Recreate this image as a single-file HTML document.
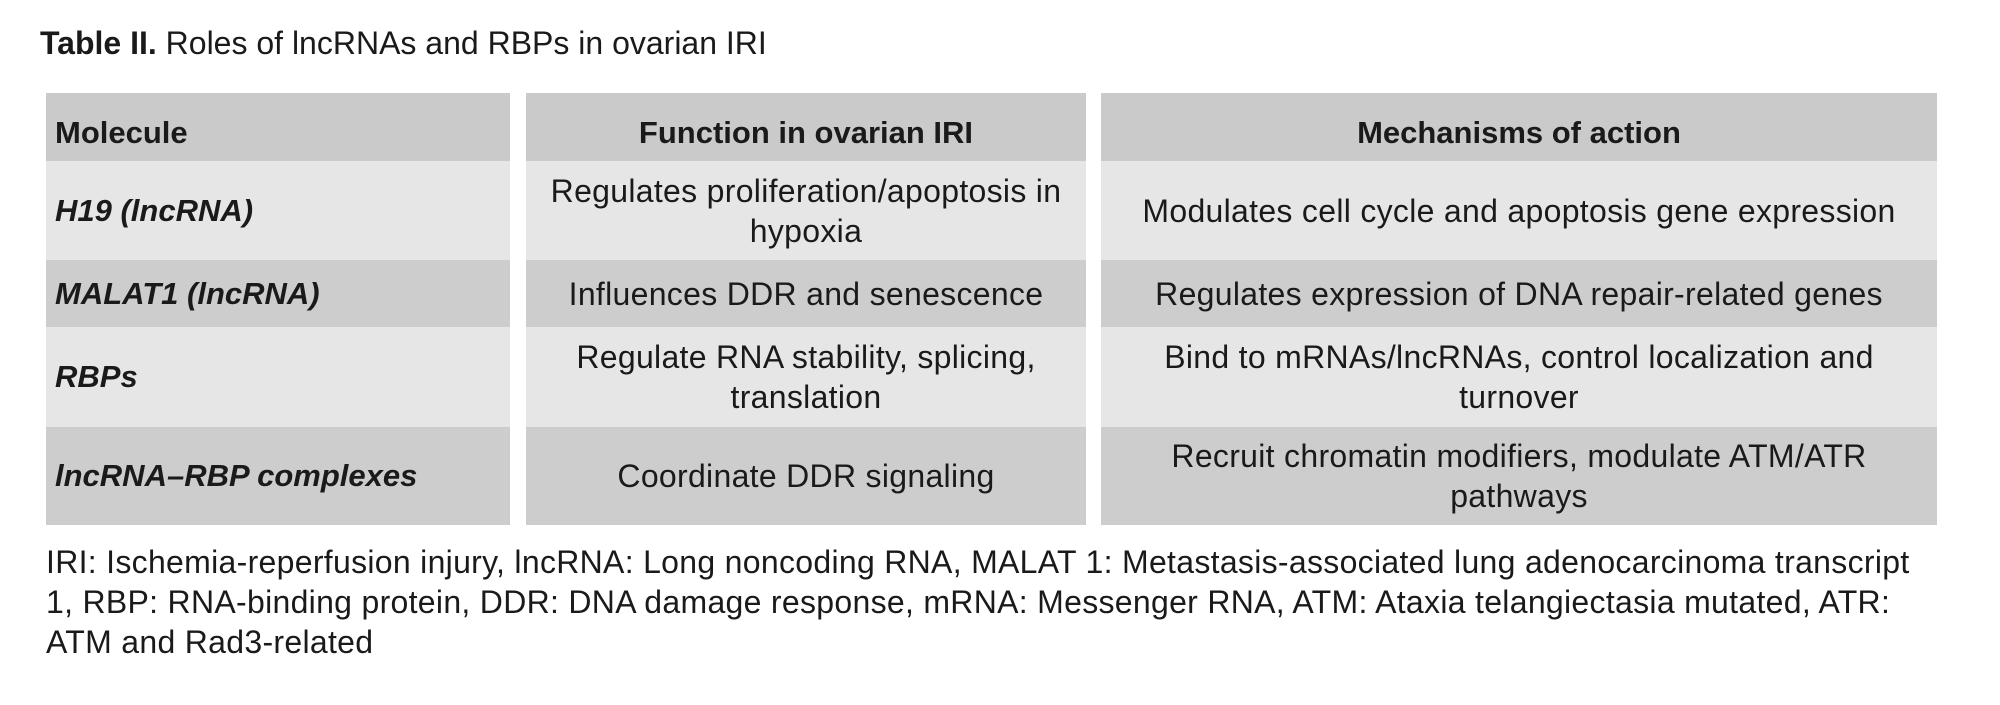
<!DOCTYPE html>
<html><head><meta charset="utf-8"><style>
body{margin:0;width:2000px;height:705px;background:#fff;font-family:"Liberation Sans",sans-serif;color:#1a1a1a;position:relative;overflow:hidden}
.t{position:absolute;left:40px;top:25px;font-size:32px;white-space:nowrap}
.c{position:absolute;display:flex;align-items:center;justify-content:center;text-align:center;font-size:32px;letter-spacing:0.3px;line-height:40px;box-sizing:border-box;white-space:nowrap}
.l{justify-content:flex-start;text-align:left;padding-left:9px;font-weight:bold;font-style:italic;font-size:31px;letter-spacing:0}
.h{background:#cacaca;font-weight:bold;align-items:flex-end;padding-bottom:8px;font-size:31px;letter-spacing:0}
.a{background:#e6e6e6}.b{background:#cdcdcd}
.f{position:absolute;left:46px;top:542px;font-size:32px;letter-spacing:0.3px;line-height:40px;white-space:nowrap}
</style></head><body>
<div class="t"><b>Table II.</b> Roles of lncRNAs and RBPs in ovarian IRI</div>

<div class="c h" style="left:46px;top:93px;width:464px;height:68px;justify-content:flex-start;padding-left:9px">Molecule</div>
<div class="c h" style="left:526px;top:93px;width:560px;height:68px">Function in ovarian IRI</div>
<div class="c h" style="left:1101px;top:93px;width:836px;height:68px">Mechanisms of action</div>

<div class="c a l" style="left:46px;top:161px;width:464px;height:99px">H19 (lncRNA)</div>
<div class="c a" style="left:526px;top:161px;width:560px;height:99px">Regulates proliferation/apoptosis in<br>hypoxia</div>
<div class="c a" style="left:1101px;top:161px;width:836px;height:99px">Modulates cell cycle and apoptosis gene expression</div>

<div class="c b l" style="left:46px;top:260px;width:464px;height:67px">MALAT1 (lncRNA)</div>
<div class="c b" style="left:526px;top:260px;width:560px;height:67px">Influences DDR and senescence</div>
<div class="c b" style="left:1101px;top:260px;width:836px;height:67px">Regulates expression of DNA repair-related genes</div>

<div class="c a l" style="left:46px;top:327px;width:464px;height:100px">RBPs</div>
<div class="c a" style="left:526px;top:327px;width:560px;height:100px">Regulate RNA stability, splicing,<br>translation</div>
<div class="c a" style="left:1101px;top:327px;width:836px;height:100px">Bind to mRNAs/lncRNAs, control localization and<br>turnover</div>

<div class="c b l" style="left:46px;top:427px;width:464px;height:98px">lncRNA–RBP complexes</div>
<div class="c b" style="left:526px;top:427px;width:560px;height:98px">Coordinate DDR signaling</div>
<div class="c b" style="left:1101px;top:427px;width:836px;height:98px">Recruit chromatin modifiers, modulate ATM/ATR<br>pathways</div>

<div class="f">IRI: Ischemia-reperfusion injury, lncRNA: Long noncoding RNA, MALAT 1: Metastasis-associated lung adenocarcinoma transcript<br>1, RBP: RNA-binding protein, DDR: DNA damage response, mRNA: Messenger RNA, ATM: Ataxia telangiectasia mutated, ATR:<br>ATM and Rad3-related</div>
</body></html>
